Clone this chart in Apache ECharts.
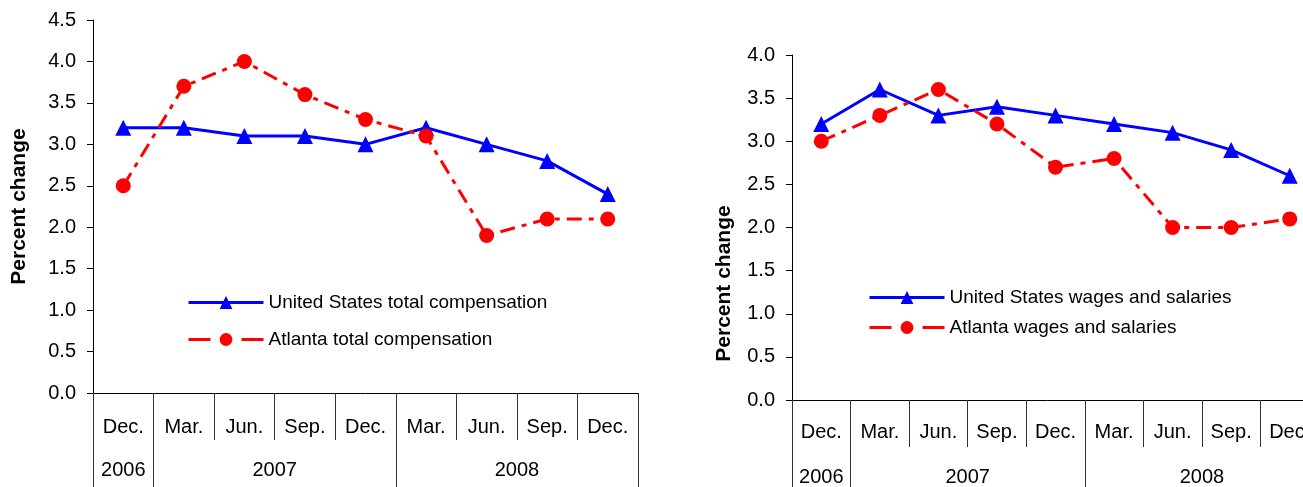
<!DOCTYPE html>
<html>
<head>
<meta charset="utf-8">
<script src="https://cdn.jsdelivr.net/npm/echarts@6/dist/echarts.min.js"></script>
<style>
html,body{margin:0;padding:0;background:#fff;}
#chart{width:1303px;height:487px;}
</style>
</head>
<body>
<div id="chart"></div>
<script>
// ---- data ----
const months = ['Dec.', 'Mar.', 'Jun.', 'Sep.', 'Dec.', 'Mar.', 'Jun.', 'Sep.', 'Dec.'];
const years = ['2006', '2007', '2008'];
const yearSpans = [1, 4, 4];
const usTotalComp = [3.2, 3.2, 3.1, 3.1, 3.0, 3.2, 3.0, 2.8, 2.4];
const atlTotalComp = [2.5, 3.7, 4.0, 3.6, 3.3, 3.1, 1.9, 2.1, 2.1];
const usWages = [3.2, 3.6, 3.3, 3.4, 3.3, 3.2, 3.1, 2.9, 2.6];
const atlWages = [3.0, 3.3, 3.6, 3.2, 2.7, 2.8, 2.0, 2.0, 2.1];
const leftYMax = 4.5;
const rightYMax = 4.0;
const yStep = 0.5;
const names = {
  usComp: 'United States total compensation',
  atlComp: 'Atlanta total compensation',
  usWage: 'United States wages and salaries',
  atlWage: 'Atlanta wages and salaries'
};

// ---- build year (second row) axis on half-category slots ----
const yearSlots = new Array(months.length * 2 + 1).fill('');
const yearBoundaries = new Set([0]);
let pos = 0;
years.forEach((y, i) => {
  yearSlots[pos * 2 + yearSpans[i]] = y;
  pos += yearSpans[i];
  yearBoundaries.add(pos * 2);
});

const FONT = 'Liberation Sans, Arial, sans-serif';
const BLACK = '#000';

function monthAxis(gridIndex, tickLen, margin) {
  return {
    type: 'category', gridIndex: gridIndex, data: months, boundaryGap: true,
    axisLine: { show: true, lineStyle: { color: BLACK, width: 1 } },
    axisTick: { show: true, interval: 0, length: tickLen, lineStyle: { color: '#333', width: 1 } },
    axisLabel: { interval: 0, margin: margin, fontSize: 20, color: BLACK, fontFamily: FONT },
    splitLine: { show: false }
  };
}
function yearAxis(gridIndex, offset, tickLen, margin) {
  return {
    type: 'category', gridIndex: gridIndex, data: yearSlots, boundaryGap: false,
    position: 'bottom', offset: offset,
    axisLine: { show: false },
    axisTick: { show: true, length: tickLen, interval: (idx) => yearBoundaries.has(idx), lineStyle: { color: '#333', width: 1 } },
    axisLabel: { interval: 0, margin: margin, fontSize: 20, color: BLACK, fontFamily: FONT },
    splitLine: { show: false }
  };
}
function yAxis(gridIndex, max, nameGap, namePadding) {
  return {
    type: 'value', gridIndex: gridIndex, min: 0, max: max, interval: yStep,
    name: 'Percent change', nameLocation: 'middle', nameRotate: 90, nameGap: nameGap,
    nameTextStyle: { fontSize: 21, fontWeight: 'bold', color: BLACK, fontFamily: FONT, padding: namePadding },
    axisLine: { show: true, lineStyle: { color: BLACK, width: 1 } },
    axisTick: { show: true, length: 6, lineStyle: { color: BLACK, width: 1 } },
    axisLabel: { margin: 17, fontSize: 20, color: BLACK, fontFamily: FONT, formatter: v => v.toFixed(1) },
    splitLine: { show: false }
  };
}
function usSeries(name, data, xi, yi) {
  return {
    name: name, type: 'line', data: data, xAxisIndex: xi, yAxisIndex: yi,
    symbol: 'triangle', symbolSize: 16,
    lineStyle: { color: '#0000FF', width: 3, type: 'solid' },
    itemStyle: { color: '#0000FF' },
    animation: false
  };
}
function atlSeries(name, data, xi, yi) {
  return {
    name: name, type: 'line', data: data, xAxisIndex: xi, yAxisIndex: yi,
    symbol: 'circle', symbolSize: 15,
    lineStyle: { color: '#FF0000', width: 3, type: [15, 7, 5, 7] },
    itemStyle: { color: '#FF0000' },
    animation: false
  };
}
function legend(left, top, gap, usName, atlName) {
  return {
    left: left, top: top, orient: 'vertical', padding: 0,
    itemWidth: 75, itemHeight: 16, itemGap: gap,
    data: [
      { name: usName },
      { name: atlName, lineStyle: { type: [22, 31] } }
    ],
    lineStyle: { width: 3 },
    textStyle: { fontSize: 19, color: BLACK, fontFamily: FONT },
    selectedMode: false
  };
}

const chart = echarts.init(document.getElementById('chart'), null, { renderer: 'canvas' });
chart.setOption({
  animation: false,
  backgroundColor: '#fff',
  textStyle: { fontFamily: FONT },
  grid: [
    { left: 93, top: 20, width: 545, height: 373, containLabel: false, outerBoundsMode: 'none' },
    { left: 792, top: 55, width: 527, height: 345, containLabel: false, outerBoundsMode: 'none' }
  ],
  xAxis: [
    monthAxis(0, 47, 24),
    yearAxis(0, 47, 47, 20),
    monthAxis(1, 47, 22),
    yearAxis(1, 47, 45, 20)
  ],
  yAxis: [
    yAxis(0, leftYMax, 63, [0, 0, 0, 0]),
    yAxis(1, rightYMax, 57, [0, 112, 0, 0])
  ],
  legend: [
    legend(187, 293, 18, names.usComp, names.atlComp),
    legend(868, 288, 11, names.usWage, names.atlWage)
  ],
  series: [
    usSeries(names.usComp, usTotalComp, 0, 0),
    atlSeries(names.atlComp, atlTotalComp, 0, 0),
    usSeries(names.usWage, usWages, 2, 1),
    atlSeries(names.atlWage, atlWages, 2, 1)
  ]
});
</script>
</body>
</html>
